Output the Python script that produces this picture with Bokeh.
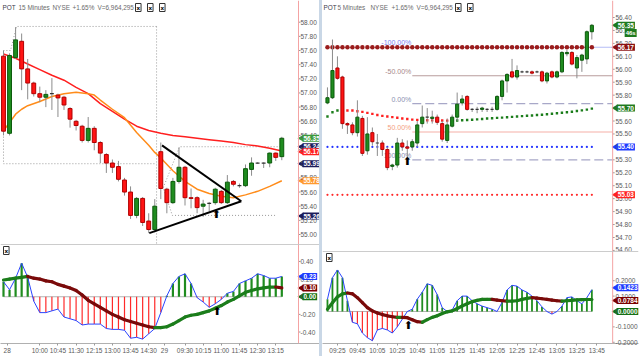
import math
from bokeh.plotting import figure
from bokeh.models import Range1d, FixedTicker, Label, Span, ColumnDataSource, PrintfTickFormatter, Spacer
from bokeh.layouts import row, column
from bokeh.embed import file_html
from bokeh.resources import INLINE
from bokeh.core.properties import value

FONT = "Liberation Sans"

# ---------------- data: left panel (15 minutes, days 28 and 29) ----------------
left_open = [57.52, 56.43, 57.50, 57.73, 57.34, 57.14, 56.99, 56.94, 56.99, 56.97, 56.94, 56.78, 56.60,
             56.53, 56.33, 56.50, 56.30, 56.13, 56.01, 55.96, 55.77, 55.60, 55.27, 55.51, 55.19, 55.07,
             56.17, 55.64, 55.45, 55.75, 55.95, 55.52, 55.52, 55.40, 55.44, 55.45, 55.61, 55.45, 55.75,
             55.69, 55.69, 55.92, 56.01, 56.01, 56.01, 56.15, 56.10]
left_close = [56.46, 57.53, 57.75, 57.34, 57.14, 56.99, 56.94, 56.98, 56.99, 56.93, 56.83, 56.63, 56.54,
              56.33, 56.50, 56.30, 56.15, 56.01, 55.95, 55.78, 55.60, 55.27, 55.51, 55.17, 55.07, 55.40,
              55.65, 55.45, 55.75, 55.95, 55.52, 55.51, 55.38, 55.43, 55.44, 55.64, 55.45, 55.74, 55.71,
              55.69, 55.93, 56.01, 56.01, 56.01, 56.15, 56.09, 56.36]
left_high = [57.60, 57.56, 57.93, 57.84, 57.48, 57.16, 57.09, 57.04, 57.21, 56.99, 56.96, 56.80, 56.62,
             56.55, 56.66, 56.53, 56.32, 56.15, 56.06, 56.04, 55.80, 55.68, 55.53, 55.53, 55.30, 55.50,
             56.30, 55.66, 55.80, 56.23, 55.97, 55.65, 55.54, 55.49, 55.46, 55.66, 55.63, 55.84, 55.77,
             55.72, 55.99, 56.09, 56.02, 56.02, 56.16, 56.16, 56.38]
left_low = [56.40, 56.40, 57.48, 57.04, 56.91, 56.95, 56.87, 56.80, 56.76, 56.66, 56.76, 56.51, 56.47,
            56.30, 56.30, 56.19, 56.01, 55.87, 55.87, 55.75, 55.55, 55.22, 55.23, 55.12, 55.02, 55.03,
            55.50, 55.30, 55.43, 55.72, 55.41, 55.37, 55.30, 55.25, 55.33, 55.42, 55.43, 55.43, 55.68,
            55.66, 55.67, 55.83, 56.00, 55.94, 55.95, 56.04, 56.05]

left_ma_red_idx = [0, 2, 4, 6, 8, 10, 12, 14, 16, 18, 20, 22, 24, 26, 28, 30, 32, 34, 36, 38, 40, 42, 44, 46]
left_ma_red = [57.55, 57.49, 57.41, 57.33, 57.25, 57.18, 57.08, 56.99, 56.85, 56.74, 56.63, 56.53, 56.47,
               56.43, 56.40, 56.38, 56.36, 56.34, 56.32, 56.30, 56.27, 56.25, 56.22, 56.18]
left_ma_orange_idx = [0, 1, 2, 3, 4, 6, 8, 10, 12, 14, 15, 16, 18, 20, 22, 24, 25, 26, 28, 30, 32, 34, 36,
                      38, 40, 42, 44, 46]
left_ma_orange = [56.47, 56.58, 56.70, 56.77, 56.82, 56.88, 56.95, 56.99, 57.01, 56.99, 56.97, 56.90, 56.77,
                  56.65, 56.44, 56.26, 56.16, 56.08, 55.90, 55.75, 55.64, 55.58, 55.54, 55.52, 55.56, 55.61,
                  55.68, 55.76]

left_macd = [0.17, 0.08, 0.21, 0.38, 0.22, -0.05, -0.18, -0.18, -0.16, -0.14, -0.23, -0.25, -0.27, -0.32,
             -0.31, -0.31, -0.31, -0.36, -0.37, -0.37, -0.38, -0.47, -0.46, -0.48, -0.42, -0.36,
             -0.18, 0.01, 0.15, 0.23, 0.26, 0.15, -0.01, -0.06, -0.12, -0.08, -0.03, 0.04, 0.06, 0.15,
             0.18, 0.21, 0.26, 0.24, 0.21, 0.21, 0.23]
left_signal = [0.19, 0.20, 0.21, 0.22, 0.23, 0.21, 0.20, 0.18, 0.17, 0.14, 0.12, 0.10, 0.07, 0.02, -0.04,
               -0.08, -0.12, -0.16, -0.20, -0.23, -0.26, -0.28, -0.30, -0.32, -0.34, -0.35, -0.35, -0.34,
               -0.31, -0.27, -0.23, -0.21, -0.20, -0.18, -0.16, -0.13, -0.10, -0.06, -0.03, 0.01, 0.05,
               0.07, 0.09, 0.10, 0.11, 0.11, 0.10]

left_x_ticks = [0.6, 6, 9, 12, 15, 18, 21, 24, 26.6, 30, 33, 36, 39, 42, 45]
left_x_labels = ["28", "10:00", "10:45", "11:30", "12:15", "13:00", "13:45", "14:30", "29", "09:30",
                 "10:15", "11:00", "11:45", "12:30", "13:15"]
left_price_ticks = [55.0, 55.2, 55.4, 55.6, 55.8, 56.0, 56.2, 56.4, 56.6, 56.8, 57.0, 57.2, 57.4, 57.6,
                    57.8, 58.0]
left_macd_ticks = [-0.4, -0.2, 0.0, 0.2, 0.4]

# drawings on the left chart
box1_x = [25.3, 2.15, 1.16, 0.0, 0.0, 25.3]
box1_y = [57.94, 57.94, 57.60, 57.60, 56.00, 56.00]
day_sep_x = [25.3, 25.3]
day_sep_y = [57.94, 54.86]
box2_x = [45.8, 29.1, 26.4, 27.9, 45.1]
box2_y = [56.24, 56.24, 55.66, 55.27, 55.27]
tri_upper_x = [26.2, 39.3]
tri_upper_y = [56.26, 55.47]
tri_lower_x = [24.1, 39.3]
tri_lower_y = [55.02, 55.47]
left_arrow_price = (35.2, 55.36)
left_arrow_macd = (35.3, -0.10)
left_price_tags = [(56.36, "56.35", "#3c9a3c"), (56.24, "56.24", "#1c1c5a"), (56.17, "56.17", "#ff2020"),
                   (56.00, "55.99", "#1c1c5a"), (55.76, "55.78", "#ff9a30"), (55.26, "55.26", "#1c1c5a")]
left_macd_tags = [(0.23, "0.23", "#1e3cff"), (0.10, "0.10", "#7a0000"), (0.00, "0.00", "#157015")]

# ---------------- data: right panel (5 minutes, day 29) ----------------
right_open = [55.74, 55.78, 56.01, 55.94, 55.58, 55.57, 55.51, 55.62, 55.37, 55.51, 55.43, 55.43, 55.38,
              55.25, 55.26, 55.43, 55.40, 55.40, 55.43, 55.58, 55.63, 55.62, 55.63, 55.58, 55.45, 55.56,
              55.63, 55.74, 55.79, 55.69, 55.69, 55.69, 55.69, 55.69, 55.69, 55.79, 55.91, 55.98, 55.94,
              55.98, 55.98, 55.98, 55.98, 55.98, 55.91, 55.98, 55.94, 55.98, 56.12, 56.13, 56.01, 56.07,
              56.08, 56.29]
right_close = [55.78, 55.99, 55.93, 55.58, 55.57, 55.51, 55.63, 55.35, 55.50, 55.44, 55.43, 55.38, 55.24,
               55.26, 55.43, 55.40, 55.39, 55.44, 55.57, 55.63, 55.63, 55.63, 55.59, 55.46, 55.57, 55.63,
               55.73, 55.77, 55.69, 55.69, 55.69, 55.70, 55.69, 55.69, 55.79, 55.91, 55.96, 55.94, 55.99,
               55.98, 55.98, 55.97, 55.98, 55.91, 55.97, 55.94, 55.98, 56.13, 56.13, 56.04, 56.09, 56.11,
               56.29, 56.34]
right_high = [55.86, 56.23, 56.10, 55.95, 55.59, 55.59, 55.76, 55.64, 55.63, 55.55, 55.50, 55.45, 55.40,
              55.27, 55.47, 55.46, 55.45, 55.46, 55.60, 55.72, 55.70, 55.68, 55.65, 55.60, 55.62, 55.65,
              55.82, 55.80, 55.80, 55.70, 55.71, 55.71, 55.70, 55.71, 55.80, 55.92, 55.97, 56.08, 56.03,
              55.99, 55.99, 55.99, 55.99, 55.99, 55.98, 55.99, 55.99, 56.14, 56.15, 56.14, 56.11, 56.12,
              56.30, 56.35]
right_low = [55.73, 55.77, 55.92, 55.54, 55.50, 55.49, 55.48, 55.33, 55.34, 55.41, 55.33, 55.33, 55.22,
             55.22, 55.24, 55.37, 55.32, 55.37, 55.40, 55.55, 55.58, 55.58, 55.57, 55.44, 55.43, 55.55,
             55.60, 55.72, 55.68, 55.67, 55.66, 55.67, 55.67, 55.67, 55.68, 55.76, 55.82, 55.93, 55.92,
             55.97, 55.97, 55.96, 55.97, 55.90, 55.89, 55.93, 55.93, 55.97, 56.10, 56.03, 55.93, 55.98,
             56.04, 56.23]
right_ma = [55.635, 55.668, 55.681, 55.687, 55.681, 55.681, 55.676, 55.671, 55.663, 55.655, 55.647, 55.640,
            55.635, 55.630, 55.625, 55.619, 55.616, 55.611, 55.609, 55.607, 55.606, 55.605, 55.604, 55.604,
            55.603, 55.603, 55.604, 55.606, 55.608, 55.610, 55.613, 55.616, 55.619, 55.622, 55.624, 55.626,
            55.629, 55.632, 55.635, 55.638, 55.641, 55.643, 55.646, 55.649, 55.652, 55.656, 55.660, 55.664,
            55.668, 55.672, 55.677, 55.682, 55.688, 55.696]
right_ma_up = [1, 1, 1] + [0] * 22 + [1] * 29
right_macd = [0.08, 0.22, 0.27, 0.22, 0.07, -0.07, -0.08, -0.14, -0.17, -0.19, -0.12, -0.11, -0.12, -0.14,
              -0.10, -0.05, 0.00, 0.015, 0.08, 0.125, 0.18, 0.17, 0.11, 0.025, 0.00, 0.01, 0.07, 0.10, 0.10,
              0.07, 0.05, 0.035, 0.025, 0.015, 0.00, 0.06, 0.14, 0.17, 0.165, 0.14, 0.125, 0.10, 0.07, 0.03,
              0.00, -0.017, 0.00, 0.035, 0.09, 0.095, 0.07, 0.05, 0.09, 0.142]
right_signal = [0.015, 0.057, 0.095, 0.115, 0.12, 0.115, 0.09, 0.057, 0.025, 0.004, -0.01, -0.02, -0.028,
                -0.034, -0.038, -0.038, -0.04, -0.053, -0.066, -0.07, -0.053, -0.038, -0.028, -0.013,
                -0.002, 0.004, 0.019, 0.036, 0.05, 0.064, 0.072, 0.079, 0.079, 0.079, 0.074, 0.07, 0.068,
                0.068, 0.07, 0.079, 0.085, 0.09, 0.087, 0.083, 0.079, 0.074, 0.07, 0.068, 0.07, 0.072,
                0.076, 0.077, 0.078, 0.078]

right_x_ticks = [2, 6, 10, 14, 18, 22, 26, 30, 34, 38, 42, 46, 50, 54]
right_x_labels = ["09:25", "09:45", "10:05", "10:25", "10:45", "11:05", "11:25", "11:45", "12:05",
                  "12:25", "12:45", "13:05", "13:25", "13:45"]
right_price_ticks = [54.6, 54.7, 54.8, 54.9, 55.0, 55.1, 55.2, 55.3, 55.4, 55.5, 55.6, 55.7, 55.8, 55.9,
                     56.0, 56.1, 56.2, 56.3, 56.4]
right_macd_ticks = [-0.2, -0.1, 0.0, 0.1, 0.2]

fib_levels = [56.17, 55.95, 55.735, 55.515, 55.30]
fib_names = ["-100.00%", "-50.00%", "0.00%", "50.00%", "100.00%"]
fib_start = 17
dot_levels = [(56.17, "#9a1c1c", 4.5), (55.40, "#2233ff", 2.2), (55.03, "#ff2a2a", 2.2)]
right_arrow_price = (16.0, 55.33)
right_arrow_macd = (16.2, -0.055)
right_price_tags = [(56.34, "56.35", "#1e7a1e"), (56.17, "56.17", "#8a1010"), (55.70, "55.70", "#1e7a1e"),
                    (55.40, "55.40", "#1e3cff"), (55.03, "55.03", "#ff2020")]
right_macd_tags = [(0.155, "0.1423", "#1e3cff"), (0.072, "0.0784", "#7a0000"), (0.0, "0.0000", "#157015")]

# ---------------- layout constants (pixel geometry) ----------------
L_X = Range1d(-0.496, 52.23)       # left panel: 319 px, price axis line at 48.76
L_AXIS = 48.76
R_X = Range1d(-0.996, 62.35)       # right panel: 318 px, price axis line at 57.17
R_AXIS = 57.17

GREEN, GREEN_LINE = "#1f8c1f", "#0b5a0b"
RED, RED_LINE = "#ff1414", "#b00000"
WICK = "#8c8c8c"
AXIS_RED = "#f4a3a3"


def px_to_x(p, px):
    return px * (p.x_range.end - p.x_range.start) / p.width


def base_fig(width, height, xr, yr, bottom, standoff, axis_x, ticks, fmt, xaxis=False):
    p = figure(width=width, height=height, x_range=xr, y_range=yr, output_backend="svg",
               toolbar_location=None, y_axis_location="right",
               x_axis_location="below" if xaxis else None,
               min_border_left=0, min_border_right=0, min_border_top=0, min_border_bottom=bottom)
    p.grid.visible = False
    p.outline_line_color = None
    p.background_fill_color = "white"
    p.border_fill_color = "white"
    ax = p.yaxis[0]
    ax.ticker = FixedTicker(ticks=ticks)
    ax.formatter = PrintfTickFormatter(format=fmt)
    ax.axis_line_color = None
    ax.major_tick_line_color = None
    ax.major_tick_out = 0
    ax.major_tick_in = 0
    ax.minor_tick_line_color = None
    ax.major_label_text_font = FONT
    ax.major_label_text_font_size = "6.5px"
    ax.major_label_text_color = "#5a5a5a"
    ax.major_label_standoff = standoff
    p.add_layout(Span(location=axis_x, dimension="height", line_color=AXIS_RED, line_width=1))
    p.segment(x0=[axis_x] * len(ticks), y0=ticks, x1=[axis_x + px_to_x(p, 2)] * len(ticks), y1=ticks,
              line_color="#9a9a9a", line_width=1)
    if xaxis:
        xa = p.xaxis[0]
        xa.axis_line_color = "#b0b0b0"
        xa.major_tick_line_color = "#9a9a9a"
        xa.major_tick_out = 2
        xa.major_tick_in = 0
        xa.minor_tick_line_color = None
        xa.major_label_text_font = FONT
        xa.major_label_text_font_size = "6.5px"
        xa.major_label_text_color = "#5a5a5a"
        xa.major_label_standoff = 1
    return p


def draw_candles(p, o, h, l, c, width):
    x = list(range(len(o)))
    top = [max(a, b) for a, b in zip(o, c)]
    bot = [min(a, b) for a, b in zip(o, c)]
    fill = [GREEN if cc > oo else RED for oo, cc in zip(o, c)]
    line = [GREEN_LINE if cc > oo else RED_LINE for oo, cc in zip(o, c)]
    src = ColumnDataSource(dict(x=x, h=h, l=l, top=top, bot=bot, fill=fill, line=line))
    p.segment("x", "h", "x", "l", source=src, line_color=WICK, line_width=1)
    body = ColumnDataSource({k: [v[i] for i in range(len(o)) if o[i] != c[i]] for k, v in src.data.items()})
    p.vbar(x="x", width=width, top="top", bottom="bot", fill_color="fill", line_color="line",
           line_width=1, source=body)
    dj = [i for i in range(len(o)) if o[i] == c[i]]
    p.segment([i - width / 2 for i in dj], [o[i] for i in dj], [i + width / 2 for i in dj],
              [o[i] for i in dj], line_color="#333333", line_width=1.2)


def draw_macd(p, macd, signal, green_w, red_w):
    x = list(range(len(macd)))
    p.segment(x0=[x[0]], y0=[0], x1=[x[-1]], y1=[0], line_color="#b4b4b4", line_width=1)
    col = [GREEN if m >= 0 else "#ff2a2a" for m in macd]
    wid = [green_w if m >= 0 else red_w for m in macd]
    p.segment(x0=x, y0=[0] * len(x), x1=x, y1=macd, line_color=col, line_width=wid)
    p.line(x, macd, line_color="#2a44ff", line_width=1)
    scol = ["#1b7d1b" if signal[i + 1] >= signal[i] else "#7a0a0a" for i in range(len(x) - 1)]
    p.segment(x0=x[:-1], y0=signal[:-1], x1=x[1:], y1=signal[1:], line_color=scol, line_width=3.2,
              line_cap="round")


def add_tags(p, axis_x, tags, xoff=4, size="6.5px"):
    ys = [t[0] for t in tags]
    cols = [t[2] for t in tags]
    p.scatter([axis_x + px_to_x(p, 3)] * len(ys), ys, marker="triangle", angle=math.pi / 2, size=7,
              fill_color=cols, line_color=None)
    for y, text, bg in tags:
        p.add_layout(Label(x=axis_x, y=y, x_offset=xoff, text=text, text_align="left",
                           text_baseline="middle", text_font=FONT, text_font_size=size,
                           text_font_style="bold", text_color="white", background_fill_color=bg,
                           background_fill_alpha=1.0, padding=1))


def add_title(p, parts):
    for dx, txt, colr in parts:
        p.add_layout(Label(x=p.x_range.start, y=p.y_range.end, x_offset=dx, y_offset=-7, text=txt,
                           text_align="left", text_baseline="middle", text_font=FONT,
                           text_font_size="6.4px", text_color=colr))


def add_xbox(p, dx, dy):
    p.add_layout(Label(x=p.x_range.start, y=p.y_range.end, x_offset=dx, y_offset=dy, text="x",
                       text_align="left", text_baseline="middle", text_font="DejaVu Sans",
                       text_font_size="5.5px", text_font_style="bold", text_color="black",
                       background_fill_color="white", border_line_color="#333333", padding=1))


def add_arrow(p, xy):
    p.text(x=[xy[0]], y=[xy[1]], text=["\u2b06"], text_font=value("DejaVu Sans"), text_font_size="11px",
           text_align="center", text_baseline="top", text_color="black", y_offset=-1)


# ---------------- left price ----------------
lp = base_fig(319, 244, L_X, Range1d(54.8587, 58.3066), 0, -19, L_AXIS, left_price_ticks, "%.2f")
for xs, ys in [(box1_x, box1_y), (day_sep_x, day_sep_y), (box2_x, box2_y)]:
    lp.line(xs, ys, line_color="#9a9a9a", line_width=1, line_dash="1 2")
lp.line(left_ma_red_idx, left_ma_red, line_color="#ff1f1f", line_width=1.5)
lp.line(left_ma_orange_idx, left_ma_orange, line_color="#ff8c1a", line_width=1.5)
draw_candles(lp, left_open, left_high, left_low, left_close, 0.64)
lp.line(tri_upper_x, tri_upper_y, line_color="black", line_width=2)
lp.line(tri_lower_x, tri_lower_y, line_color="black", line_width=2)
add_arrow(lp, left_arrow_price)
add_tags(lp, L_AXIS, left_price_tags)
add_title(lp, [(2, "POT", "#3a3a4a"), (18, "15 Minutes", "#6a6a6a"), (52, "NYSE", "#6a6a6a"),
               (72, "+1.65%", "#6a6a6a"), (97, "V=6,964,295", "#6a6a6a")])
for dx in (135, 147, 159):
    add_xbox(lp, dx, -7)

# ---------------- left macd ----------------
lm = base_fig(319, 112, L_X, Range1d(-0.530, 0.592), 11, -19, L_AXIS, left_macd_ticks, "%.2f", xaxis=True)
lm.xaxis[0].ticker = FixedTicker(ticks=left_x_ticks)
lm.xaxis[0].major_label_overrides = {t: s for t, s in zip(left_x_ticks, left_x_labels)}
lm.add_layout(Span(location=lm.y_range.end, dimension="width", line_color="#9a9a9a", line_width=1))
draw_macd(lm, left_macd, left_signal, 2.2, 1.2)
add_arrow(lm, left_arrow_macd)
add_tags(lm, L_AXIS, left_macd_tags)
add_xbox(lm, 3, -6)

# ---------------- right price ----------------
rp = base_fig(318, 251, R_X, Range1d(54.5917, 56.5314), 0, -23, R_AXIS, right_price_ticks, "%.2f")
fib_colors = ["#b4bcf6", "#b89c9c", "#a8a8c8", "#f6b0a8", "#a8a8c8"]
fib_text_colors = ["#7a80f0", "#a88888", "#8890b0", "#f4a080", "#8890b0"]
fib_dashes = ["solid", "solid", "9 4", "solid", "9 4"]
for lev, colr, dash in zip(fib_levels, fib_colors, fib_dashes):
    rp.line([fib_start, R_AXIS], [lev, lev], line_color=colr, line_width=1.2, line_dash=dash)
n_r = len(right_open)
kx = list(range(n_r))
for lev, colr, sz in dot_levels:
    rp.scatter(kx, [lev] * n_r, size=sz, marker="circle", fill_color=colr, line_color=None)
rp.scatter(kx, right_ma, size=2.4, marker="square", line_color=None,
           fill_color=["#1b7d1b" if u else "#ff2020" for u in right_ma_up])
fsrc = ColumnDataSource(dict(x=[fib_start] * len(fib_levels), y=fib_levels, t=fib_names,
                             c=fib_text_colors))
rp.text(x="x", y="y", text="t", text_color="c", source=fsrc, text_font=value(FONT),
        text_font_size="7px", text_align="right", text_baseline="bottom", x_offset=-1, y_offset=-1)
draw_candles(rp, right_open, right_high, right_low, right_close, 0.62)
add_arrow(rp, right_arrow_price)
add_tags(rp, R_AXIS, right_price_tags)
rp.add_layout(Label(x=R_AXIS, y=56.28, x_offset=12, text="46s", text_align="left", text_baseline="middle",
                    text_font=FONT, text_font_size="6px", text_font_style="bold", text_color="white",
                    background_fill_color="#1e7a1e", padding=1))
add_title(rp, [(1, "POT", "#3a3a4a"), (15, "5 Minutes", "#6a6a6a"), (48, "NYSE", "#6a6a6a"),
               (69, "+1.65%", "#6a6a6a"), (94, "V=6,964,295", "#6a6a6a")])
for dx in (133, 145):
    add_xbox(rp, dx, -7)

# ---------------- right macd ----------------
rm = base_fig(318, 105, R_X, Range1d(-0.208, 0.390), 11, -23, R_AXIS, right_macd_ticks, "%.4f", xaxis=True)
rm.xaxis[0].ticker = FixedTicker(ticks=right_x_ticks)
rm.xaxis[0].major_label_overrides = {t: s for t, s in zip(right_x_ticks, right_x_labels)}
rm.add_layout(Span(location=rm.y_range.end, dimension="width", line_color="#9a9a9a", line_width=1))
draw_macd(rm, right_macd, right_signal, 1.8, 1.2)
add_arrow(rm, right_arrow_macd)
add_tags(rm, R_AXIS, right_macd_tags)
add_xbox(rm, 4, -6)

sep = Spacer(width=3, height=356, styles={"background-color": "#c9d7e6"})
layout = row(column(lp, lm), sep, column(rp, rm))

open("out.html", "w").write(file_html(layout, INLINE))
